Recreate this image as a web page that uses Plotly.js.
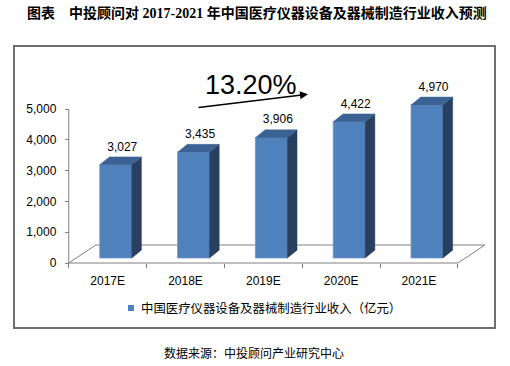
<!DOCTYPE html>
<html>
<head>
<meta charset="utf-8">
<script src="https://cdn.plot.ly/plotly-3.0.1.min.js"></script>
<style>html,body{margin:0;padding:0;background:#fff;}#chart{width:510px;height:366px;}</style>
</head>
<body>
<div id="chart"></div>
<script>
// ---- data ----
const categories = ["2017E", "2018E", "2019E", "2020E", "2021E"];
const revenue = [3027, 3435, 3906, 4422, 4970];
const yTicks = [0, 1000, 2000, 3000, 4000, 5000];
const seriesName = "中国医疗仪器设备及器械制造行业收入（亿元）";
const growthLabel = "13.20%";
const titleText = "图表　中投顾问对 2017-2021 年中国医疗仪器设备及器械制造行业收入预测";
const sourceText = "数据来源：中投顾问产业研究中心";

// ---- layout geometry ----
const W = 510, H = 366;
const ML = 61, MR = 21, MT = 84, MB = 100;
const plotW = W - ML - MR, plotH = H - MT - MB;
const XR = [-0.6, 4.9];
const YR = [-97.4, 5811.7];
const PX = px => (px - ML) / plotW;
const PY = py => (H - MB - py) / plotH;

// 3D styling offsets (data units)
const SHIFT = 0.103;
const BAR_W = 0.41;
const BASE = 162;
const DX = 0.125, DY = 255;
const FDX = 0.347, FDY = 584;
const LBL_DX = 0.187, LBL_DY = 560;

const xs = categories.map((c, i) => i + SHIFT);

const bars = {
  type: 'bar', x: xs, y: revenue, base: revenue.map(() => BASE), width: BAR_W,
  marker: {color: '#4F81BD', line: {color: '#7397C6', width: 0.8}},
  hoverinfo: 'skip', showlegend: false
};
const labels = {
  type: 'scatter', mode: 'text',
  x: categories.map((c, i) => i + LBL_DX),
  y: revenue.map(v => v + BASE + LBL_DY),
  text: revenue.map(v => v.toLocaleString('en-US')),
  textposition: 'middle center',
  textfont: {family: 'Liberation Sans, Arial, sans-serif', size: 12, color: '#000'},
  cliponaxis: false, hoverinfo: 'skip', showlegend: false
};

const shapes = [];
// floor outline
shapes.push({type: 'path', xref: 'x', yref: 'y', layer: 'below',
  path: `M -0.5,0 L ${categories.length - 0.5},0 L ${categories.length - 0.5 + FDX},${FDY} L ${-0.5 + FDX},${FDY} Z`,
  line: {color: '#808080', width: 1}, fillcolor: 'rgba(0,0,0,0)'});
// y axis line
shapes.push({type: 'line', xref: 'x', yref: 'y', x0: -0.5, x1: -0.5, y0: 0, y1: yTicks[yTicks.length - 1],
  line: {color: '#808080', width: 1}});
// bar side and top faces
revenue.forEach((v, i) => {
  const xl = xs[i] - BAR_W / 2, xr = xs[i] + BAR_W / 2;
  const b = BASE, t = BASE + v;
  shapes.push({type: 'path', xref: 'x', yref: 'y', layer: 'above',
    path: `M ${xr},${b} L ${xr + DX},${b + DY} L ${xr + DX},${t + DY} L ${xr},${t} Z`,
    fillcolor: '#283F5F', line: {color: '#283F5F', width: 0.5}});
  shapes.push({type: 'path', xref: 'x', yref: 'y', layer: 'above',
    path: `M ${xl},${t} L ${xl + DX},${t + DY} L ${xr + DX},${t + DY} L ${xr},${t} Z`,
    fillcolor: '#3B6293', line: {color: '#3B6293', width: 0.5}});
});
// outer frame
shapes.push({type: 'rect', xref: 'paper', yref: 'paper',
  x0: PX(14), x1: PX(495), y0: PY(328), y1: PY(46),
  line: {color: '#6E6E6E', width: 2}, fillcolor: 'rgba(0,0,0,0)'});
// legend key
shapes.push({type: 'rect', xref: 'paper', yref: 'paper',
  x0: PX(128), x1: PX(134), y0: PY(311), y1: PY(305),
  line: {width: 0}, fillcolor: '#4F81BD'});

const annotations = [
  {xref: 'paper', yref: 'paper', x: PX(251), y: PY(85), xanchor: 'center', yanchor: 'middle',
   text: growthLabel, showarrow: false,
   font: {family: 'Liberation Sans, Arial, sans-serif', size: 27, color: '#000'}},
  {xref: 'paper', yref: 'paper', x: PX(308), y: PY(94.3), text: '', showarrow: true,
   axref: 'pixel', ayref: 'pixel', ax: -111, ay: 13.4,
   arrowhead: 2, arrowsize: 1, arrowwidth: 1.6, arrowcolor: '#000'},
  {xref: 'paper', yref: 'paper', x: PX(139), y: PY(308), xanchor: 'left', yanchor: 'middle',
   text: seriesName, showarrow: false,
   font: {family: 'Noto Sans CJK SC, sans-serif', size: 12.4, color: '#000'}},
  {xref: 'paper', yref: 'paper', x: PX(254), y: PY(352), xanchor: 'center', yanchor: 'middle',
   text: sourceText, showarrow: false,
   font: {family: 'Noto Sans CJK SC, sans-serif', size: 12, color: '#000'}}
];

const layout = {
  width: W, height: H,
  margin: {l: ML, r: MR, t: MT, b: MB, pad: 0},
  paper_bgcolor: '#fff', plot_bgcolor: 'rgba(0,0,0,0)',
  title: {text: titleText, xref: 'container', yref: 'container', x: 27 / W, xanchor: 'left',
    y: 1 - 13 / H, yanchor: 'middle',
    font: {family: 'Liberation Serif, Noto Sans CJK SC, serif', size: 14, color: '#000', weight: 'bold'}},
  showlegend: false, hovermode: false,
  xaxis: {type: 'linear', range: XR, fixedrange: true, showgrid: false, zeroline: false, showline: false,
    anchor: 'free', position: PY(263),
    tickmode: 'array', tickvals: categories.map((c, i) => i), ticktext: categories, ticks: '',
    ticklabelstandoff: 9,
    tickfont: {family: 'Liberation Sans, Arial, sans-serif', size: 12, color: '#000'},
    minor: {tickmode: 'array', tickvals: categories.map((c, i) => i - 0.5).concat([categories.length - 0.5]),
      ticks: 'outside', ticklen: 4, tickcolor: '#808080', tickwidth: 1}},
  yaxis: {range: YR, fixedrange: true, showgrid: false, zeroline: false, showline: false,
    anchor: 'free', position: PX(68.8),
    tickmode: 'array', tickvals: yTicks, tickformat: ',d', ticks: 'outside', ticklen: 4,
    ticklabelstandoff: 6,
    tickcolor: '#808080', tickwidth: 1,
    tickfont: {family: 'Liberation Sans, Arial, sans-serif', size: 12, color: '#000'}},
  shapes: shapes, annotations: annotations
};

Plotly.newPlot('chart', [bars, labels], layout, {displayModeBar: false, staticPlot: true});
</script>
</body>
</html>
